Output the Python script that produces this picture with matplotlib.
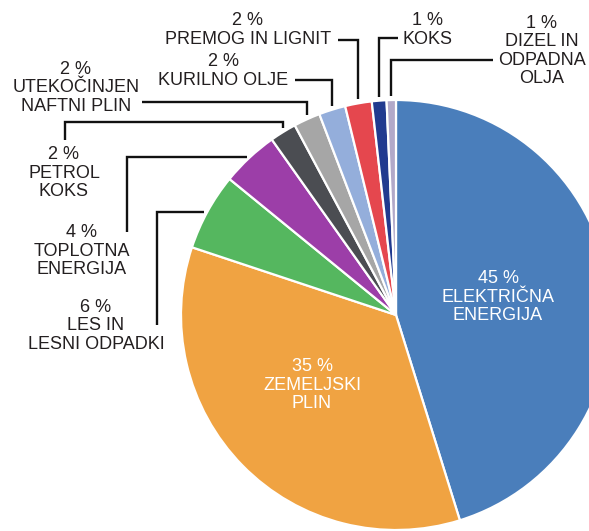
import numpy as np
import matplotlib
matplotlib.use("Agg")
import matplotlib.pyplot as plt

# ---- data (clockwise from 12 o'clock) ----
categories = ["ELEKTRIČNA\nENERGIJA", "ZEMELJSKI\nPLIN", "LES IN\nLESNI ODPADKI",
              "TOPLOTNA\nENERGIJA", "PETROL\nKOKS", "UTEKOČINJEN\nNAFTNI PLIN",
              "KURILNO OLJE", "PREMOG IN LIGNIT", "KOKS", "DIZEL IN\nODPADNA\nOLJA"]
values = [45.2, 34.9, 5.8, 4.3, 2.0, 2.0, 2.0, 2.0, 1.1, 0.7]
pct_labels = ["45 %", "35 %", "6 %", "4 %", "2 %", "2 %", "2 %", "2 %", "1 %", "1 %"]
colors = ["#4A7EBB", "#F0A342", "#55B75F", "#9C3EA8", "#4B4D52",
          "#A6A6A6", "#94AEDB", "#E5474E", "#213A8F", "#B2A9C9"]

W, H = 589, 531
fig = plt.figure(figsize=(W / 100, H / 100), dpi=100)
ax = fig.add_axes([0, 0, 1, 1])

def Y(y):  # pixel row -> data y
    return H - y

CX, CY, R = 396, 315, 215
wedges, _ = ax.pie(values, colors=colors, startangle=90, counterclock=False,
                   center=(CX, Y(CY)), radius=R,
                   wedgeprops=dict(edgecolor="white", linewidth=1.6))
ax.set_xlim(0, W)
ax.set_ylim(0, H)
ax.set_aspect("equal")
ax.axis("off")

font = "Liberation Sans"
txtc = "#231F20"
FS = 13
LS = 1.1

# inner labels
inner = {0: (498, 297), 1: (312, 385)}
for i, (x, y) in inner.items():
    ax.text(x, Y(y), pct_labels[i] + "\n" + categories[i], ha="center", va="center",
            color="white", fontsize=FS, family=font, linespacing=LS)

# outer label block centres (pixels)
outer = {2: (96, 326), 3: (82, 251), 4: (64, 173), 5: (76, 88),
         6: (223, 71), 7: (248, 30), 8: (428, 30), 9: (542, 51)}
for i, (x, y) in outer.items():
    ax.text(x, Y(y), pct_labels[i] + "\n" + categories[i], ha="center", va="center",
            color=txtc, fontsize=FS, family=font, linespacing=LS)

# leader lines: elbow paths in pixels; final point reaches the slice edge
cum = np.cumsum([0] + values[:-1])
def mid_angle(i):
    return np.deg2rad(90 - (cum[i] + values[i] / 2) * 3.6)

def vertical_end(i, gap=4):
    a = mid_angle(i)
    x = CX + R * np.cos(a)
    y = CY - np.sqrt(R**2 - (x - CX) ** 2) - gap
    return x, y

def horizontal_end(y, gap=3):
    x = CX - np.sqrt(R**2 - (y - CY) ** 2) - gap
    return x, y

leaders = []
# PREMOG IN LIGNIT
x, y = vertical_end(7)
leaders.append([(338, 40), (x, 40), (x, y)])
# KOKS
x, y = vertical_end(8)
leaders.append([(398, 38), (x, 38), (x, y)])
# DIZEL
x, y = vertical_end(9)
leaders.append([(493, 60), (x, 60), (x, y)])
# KURILNO OLJE
x, y = vertical_end(6)
leaders.append([(295, 80), (x, 80), (x, y)])
# UTEKOČINJEN
x, y = vertical_end(5)
leaders.append([(142, 102), (x, 102), (x, y)])
# PETROL KOKS
x, y = vertical_end(4)
leaders.append([(65, 140), (65, 122), (x, 122), (x, y)])
# TOPLOTNA
x, y = horizontal_end(157)
leaders.append([(127, 232), (127, 157), (x, y)])
# LES
x, y = horizontal_end(212)
leaders.append([(157, 325), (157, 212), (x, y)])

for path in leaders:
    xs = [p[0] for p in path]
    ys = [Y(p[1]) for p in path]
    ax.plot(xs, ys, color="#111111", lw=1.7, solid_capstyle="butt",
            solid_joinstyle="miter")

fig.savefig("out.png", dpi=100)
